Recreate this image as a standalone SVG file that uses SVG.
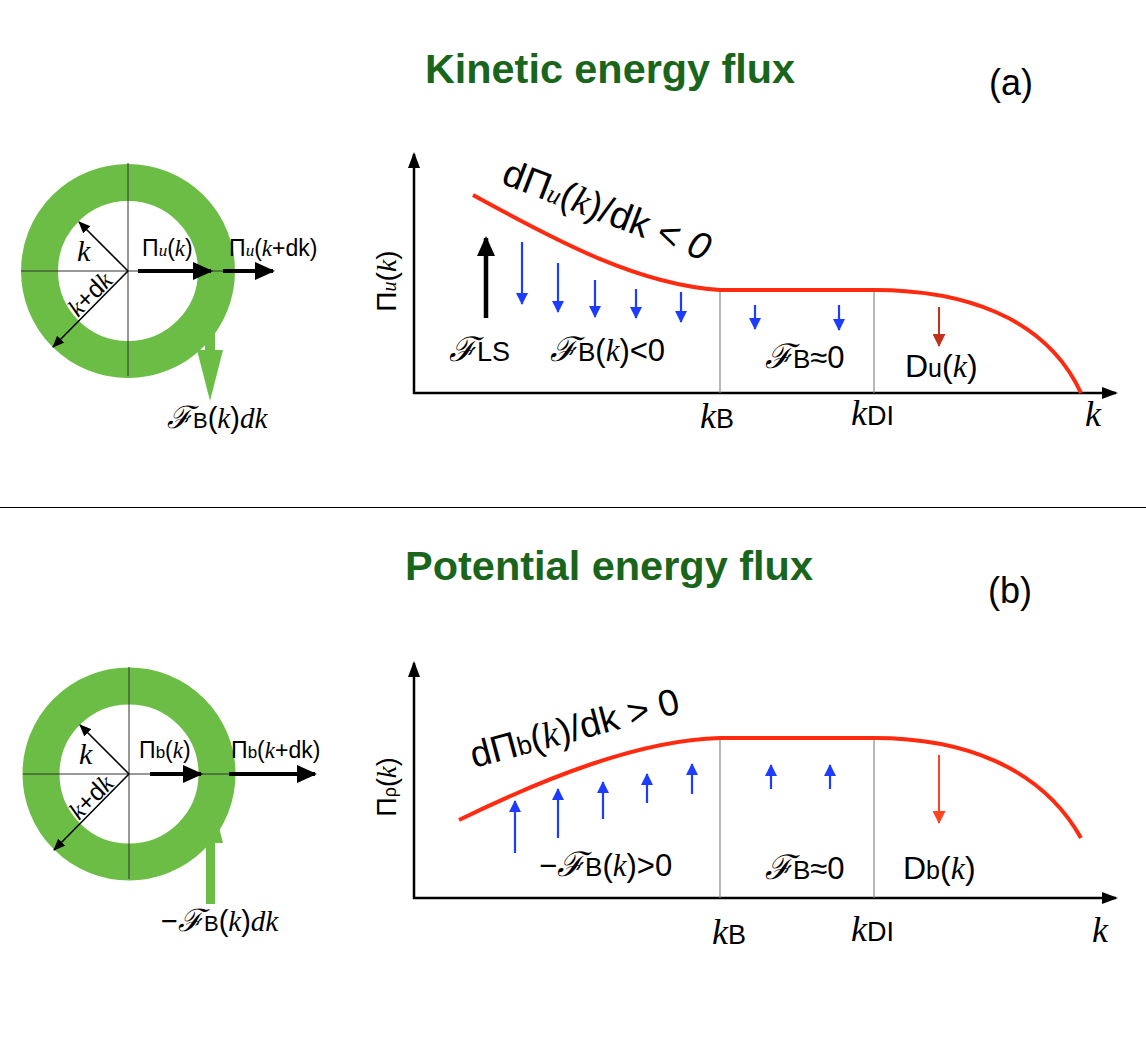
<svg xmlns="http://www.w3.org/2000/svg" width="1146" height="1042" viewBox="0 0 1146 1042">
<style>
.sans{font-family:"Liberation Sans",Arial,sans-serif;}
.it{font-family:"Liberation Serif","Times New Roman",serif;font-style:italic;}
.scr{font-family:"DejaVu Serif","Liberation Serif",serif;font-style:italic;}
.title{font-family:"Liberation Sans",Arial,sans-serif;font-weight:bold;fill:#1a651c;}
.ring{fill:none;stroke:#6cbd45;stroke-width:37;}
.cross{stroke:#333;stroke-width:1;}
.axis{stroke:#000;stroke-width:2.5;fill:none;}
.grid{stroke:#888;stroke-width:1.2;}
.curve{stroke:#ff2a0f;stroke-width:4;fill:none;}
.blue{stroke:#1d3cff;stroke-width:2.2;}
.thin{stroke:#000;stroke-width:1.6;}
.thick{stroke:#000;stroke-width:4;}
.green{fill:#6cbd45;}
</style>
<defs>
<marker id="ax" markerUnits="userSpaceOnUse" markerWidth="16" markerHeight="12" refX="14" refY="6" orient="auto"><path d="M0,0 L16,6 L0,12 z" fill="#000"/></marker>
<marker id="th" markerUnits="userSpaceOnUse" markerWidth="12" markerHeight="10" refX="11" refY="5" orient="auto"><path d="M0,0 L12,5 L0,10 z" fill="#000"/></marker>
<marker id="bk" markerUnits="userSpaceOnUse" markerWidth="20" markerHeight="18" refX="18" refY="9" orient="auto"><path d="M0,0 L20,9 L0,18 z" fill="#000"/></marker>
<marker id="bl" markerUnits="userSpaceOnUse" markerWidth="12" markerHeight="12" refX="11" refY="6" orient="auto"><path d="M0,0 L12,6 L0,12 z" fill="#1d3cff"/></marker>
<marker id="rd1" markerUnits="userSpaceOnUse" markerWidth="13" markerHeight="13" refX="12" refY="6.5" orient="auto"><path d="M0,0 L13,6.5 L0,13 z" fill="#c2311a"/></marker>
<marker id="rd2" markerUnits="userSpaceOnUse" markerWidth="13" markerHeight="13" refX="12" refY="6.5" orient="auto"><path d="M0,0 L13,6.5 L0,13 z" fill="#ff4422"/></marker>
</defs>

<!-- Titles -->
<g id="title-a">
<text class="title" x="425" y="83" font-size="40" textLength="370" lengthAdjust="spacingAndGlyphs">Kinetic energy flux</text>
<text class="sans" x="989" y="95" font-size="36">(a)</text>
</g>
<g id="title-b">
<text class="title" x="405" y="580" font-size="40" textLength="408" lengthAdjust="spacingAndGlyphs">Potential energy flux</text>
<text class="sans" x="988" y="603" font-size="36">(b)</text>
</g>

<line x1="0" y1="507.5" x2="1146" y2="507.5" stroke="#000" stroke-width="1"/>

<!-- Ring (a) -->
<g id="ring-a">
<circle class="ring" cx="128" cy="271" r="88.5"/>
<line class="cross" x1="21" y1="271" x2="228" y2="271"/>
<line class="cross" x1="128" y1="163" x2="128" y2="376"/>
<line class="thin" x1="128" y1="271" x2="79" y2="222" marker-end="url(#th)"/>
<line class="thin" x1="128" y1="271" x2="53" y2="347" marker-end="url(#th)"/>
<text class="it" x="77" y="261" font-size="30">k</text>
<text transform="translate(78,318) rotate(-45)" font-size="25"><tspan class="it">k</tspan><tspan class="sans">+d</tspan><tspan class="it">k</tspan></text>
<text x="142" y="256" font-size="23"><tspan class="sans">Π</tspan><tspan class="it" font-size="17">u</tspan><tspan class="sans">(</tspan><tspan class="it">k</tspan><tspan class="sans">)</tspan></text>
<text x="229" y="256" font-size="23"><tspan class="sans">Π</tspan><tspan class="it" font-size="17">u</tspan><tspan class="sans">(</tspan><tspan class="it">k</tspan><tspan class="sans">+dk)</tspan></text>
<line class="thick" x1="138" y1="271" x2="211" y2="271" marker-end="url(#bk)"/>
<line class="thick" x1="223" y1="271" x2="273" y2="271" marker-end="url(#bk)"/>
<rect class="green" x="205" y="287" width="10" height="64"/>
<polygon class="green" points="197,350 223,350 210,401"/>
<text x="167" y="428" font-size="29"><tspan class="scr" font-size="31">ℱ</tspan><tspan class="sans" font-size="22">B</tspan><tspan class="sans">(</tspan><tspan class="it">k</tspan><tspan class="sans">)</tspan><tspan class="it">dk</tspan></text>
</g>

<!-- Chart (a) -->
<g id="chart-a">
<line class="axis" x1="414" y1="394" x2="414" y2="154" marker-end="url(#ax)"/>
<line class="axis" x1="413" y1="393" x2="1116" y2="393" marker-end="url(#ax)"/>
<line class="grid" x1="720" y1="290" x2="720" y2="393"/>
<line class="grid" x1="874" y1="290" x2="874" y2="393"/>
<path class="curve" d="M473,195 C560,243 640,285 720,290 L874,290 C960,290 1045,315 1081,393"/>
<text transform="translate(500,183) rotate(21)" font-size="38"><tspan class="sans">dΠ</tspan><tspan class="it" font-size="26">u</tspan><tspan class="sans">(</tspan><tspan class="it">k</tspan><tspan class="sans">)/dk &lt; </tspan><tspan class="sans" font-style="italic">0</tspan></text>
<text transform="translate(396,281) rotate(-90)" text-anchor="middle" font-size="28"><tspan class="sans">Π</tspan><tspan class="it" font-size="20">u</tspan><tspan class="sans">(</tspan><tspan class="it">k</tspan><tspan class="sans">)</tspan></text>
<line x1="486" y1="318" x2="486" y2="238" stroke="#000" stroke-width="4.5" marker-end="url(#bk)"/>
<line class="blue" x1="522" y1="242" x2="522" y2="304" marker-end="url(#bl)"/>
<line class="blue" x1="558" y1="263" x2="558" y2="312" marker-end="url(#bl)"/>
<line class="blue" x1="595" y1="280" x2="595" y2="317" marker-end="url(#bl)"/>
<line class="blue" x1="636" y1="289" x2="636" y2="318" marker-end="url(#bl)"/>
<line class="blue" x1="681" y1="292" x2="681" y2="322" marker-end="url(#bl)"/>
<line class="blue" x1="755" y1="305" x2="755" y2="329" marker-end="url(#bl)"/>
<line class="blue" x1="839" y1="305" x2="839" y2="330" marker-end="url(#bl)"/>
<line x1="939" y1="307" x2="939" y2="346" stroke="#c2311a" stroke-width="2" marker-end="url(#rd1)"/>
<text x="449" y="361" font-size="30"><tspan class="scr" font-size="34">ℱ</tspan><tspan class="sans" font-size="27">LS</tspan></text>
<text x="550" y="361" font-size="31"><tspan class="scr" font-size="34">ℱ</tspan><tspan class="sans" font-size="26">B</tspan><tspan class="sans">(</tspan><tspan class="it">k</tspan><tspan class="sans">)&lt;0</tspan></text>
<text x="765" y="368" font-size="31"><tspan class="scr" font-size="34">ℱ</tspan><tspan class="sans" font-size="26">B</tspan><tspan class="sans">≈0</tspan></text>
<text x="905" y="377" font-size="32"><tspan class="sans">D</tspan><tspan class="sans" font-size="25">u</tspan><tspan class="sans">(</tspan><tspan class="it">k</tspan><tspan class="sans">)</tspan></text>
<text x="700" y="428" font-size="36"><tspan class="it">k</tspan><tspan class="sans" font-size="27">B</tspan></text>
<text x="851" y="425" font-size="36"><tspan class="it">k</tspan><tspan class="sans" font-size="27">DI</tspan></text>
<text class="it" x="1085" y="426" font-size="36">k</text>
</g>

<!-- Ring (b) -->
<g id="ring-b">
<circle class="ring" cx="129" cy="774" r="88"/>
<line class="cross" x1="23" y1="774" x2="230" y2="774"/>
<line class="cross" x1="129" y1="667" x2="129" y2="879"/>
<line class="thin" x1="129" y1="774" x2="80" y2="725" marker-end="url(#th)"/>
<line class="thin" x1="129" y1="774" x2="54" y2="850" marker-end="url(#th)"/>
<text class="it" x="79" y="764" font-size="30">k</text>
<text transform="translate(79,821) rotate(-45)" font-size="25"><tspan class="it">k</tspan><tspan class="sans">+d</tspan><tspan class="it">k</tspan></text>
<text x="139" y="758" font-size="23"><tspan class="sans">Π</tspan><tspan class="sans" font-size="17">b</tspan><tspan class="sans">(</tspan><tspan class="it">k</tspan><tspan class="sans">)</tspan></text>
<text x="231" y="758" font-size="23"><tspan class="sans">Π</tspan><tspan class="sans" font-size="17">b</tspan><tspan class="sans">(</tspan><tspan class="it">k</tspan><tspan class="sans">+dk)</tspan></text>
<line class="thick" x1="150" y1="774" x2="201" y2="774" marker-end="url(#bk)"/>
<line class="thick" x1="229" y1="774" x2="315" y2="774" marker-end="url(#bk)"/>
<polygon class="green" points="197,843 223,843 210,792"/>
<rect class="green" x="206" y="842" width="9" height="62"/>
<text x="161" y="931" font-size="29"><tspan class="sans">−</tspan><tspan class="scr" font-size="31">ℱ</tspan><tspan class="sans" font-size="22">B</tspan><tspan class="sans">(</tspan><tspan class="it">k</tspan><tspan class="sans">)</tspan><tspan class="it">dk</tspan></text>
</g>

<!-- Chart (b) -->
<g id="chart-b">
<line class="axis" x1="414" y1="899" x2="414" y2="663" marker-end="url(#ax)"/>
<line class="axis" x1="413" y1="898" x2="1116" y2="898" marker-end="url(#ax)"/>
<line class="grid" x1="720" y1="738" x2="720" y2="898"/>
<line class="grid" x1="874" y1="738" x2="874" y2="898"/>
<path class="curve" d="M459,820 C545,778 640,740 720,738 L874,738 C960,738 1040,765 1081,838"/>
<text transform="translate(474,768) rotate(-15)" font-size="37"><tspan class="sans">dΠ</tspan><tspan class="sans" font-size="26">b</tspan><tspan class="sans">(</tspan><tspan class="it">k</tspan><tspan class="sans">)/dk &gt; 0</tspan></text>
<text transform="translate(396,787) rotate(-90)" text-anchor="middle" font-size="27"><tspan class="sans">Π</tspan><tspan class="sans" font-size="18">ρ</tspan><tspan class="sans">(</tspan><tspan class="it">k</tspan><tspan class="sans">)</tspan></text>
<line class="blue" x1="515" y1="853" x2="515" y2="801" marker-end="url(#bl)"/>
<line class="blue" x1="558" y1="838" x2="558" y2="789" marker-end="url(#bl)"/>
<line class="blue" x1="603" y1="819" x2="603" y2="782" marker-end="url(#bl)"/>
<line class="blue" x1="647" y1="803" x2="647" y2="774" marker-end="url(#bl)"/>
<line class="blue" x1="692" y1="794" x2="692" y2="764" marker-end="url(#bl)"/>
<line class="blue" x1="771" y1="789" x2="771" y2="765" marker-end="url(#bl)"/>
<line class="blue" x1="830" y1="789" x2="830" y2="765" marker-end="url(#bl)"/>
<line x1="939" y1="755" x2="939" y2="823" stroke="#ff4422" stroke-width="2" marker-end="url(#rd2)"/>
<text x="539" y="876" font-size="31"><tspan class="sans">−</tspan><tspan class="scr" font-size="34">ℱ</tspan><tspan class="sans" font-size="26">B</tspan><tspan class="sans">(</tspan><tspan class="it">k</tspan><tspan class="sans">)&gt;0</tspan></text>
<text x="765" y="879" font-size="31"><tspan class="scr" font-size="34">ℱ</tspan><tspan class="sans" font-size="26">B</tspan><tspan class="sans">≈0</tspan></text>
<text x="903" y="879" font-size="32"><tspan class="sans">D</tspan><tspan class="sans" font-size="25">b</tspan><tspan class="sans">(</tspan><tspan class="it">k</tspan><tspan class="sans">)</tspan></text>
<text x="712" y="944" font-size="36"><tspan class="it">k</tspan><tspan class="sans" font-size="27">B</tspan></text>
<text x="851" y="941" font-size="36"><tspan class="it">k</tspan><tspan class="sans" font-size="27">DI</tspan></text>
<text class="it" x="1092" y="942" font-size="36">k</text>
</g>
</svg>
